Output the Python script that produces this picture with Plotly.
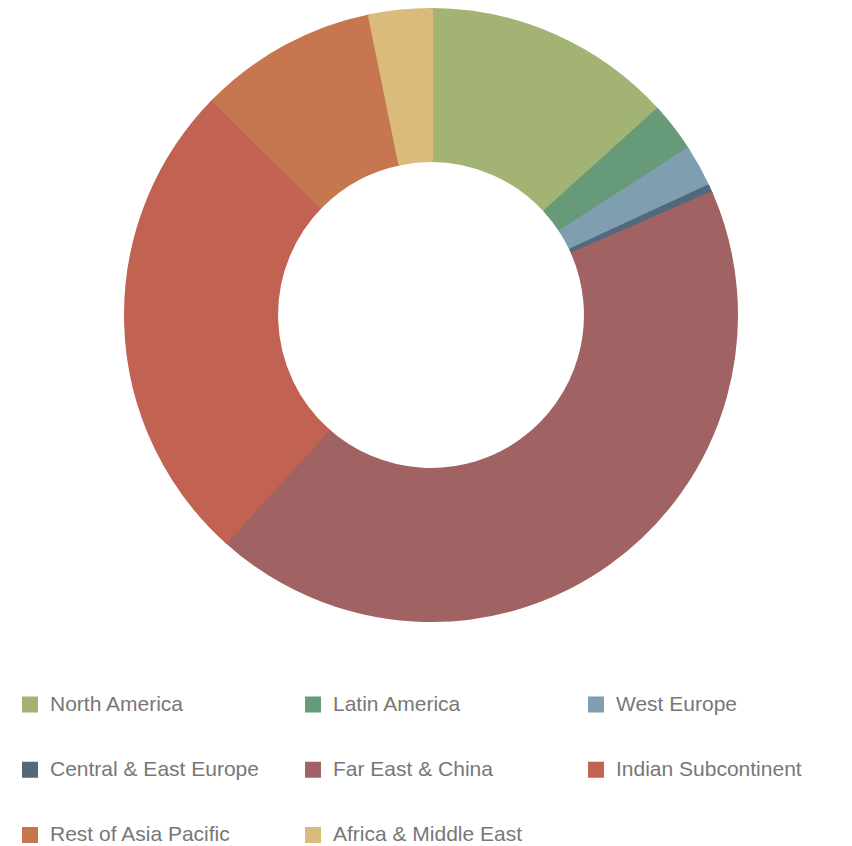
import plotly.graph_objects as go

regions = ["North America", "Latin America", "West Europe", "Central & East Europe",
           "Far East & China", "Indian Subcontinent", "Rest of Asia Pacific", "Africa & Middle East"]
shares = [13.3, 2.6, 2.2, 0.4, 43.2, 25.7, 9.4, 3.2]
colors = ["#a2b374", "#679a79", "#7f9eaf", "#52687d", "#a06262", "#c16253", "#c6774f", "#dbbb7b"]

legend_labels = ["<br><span style='font-size:21px'>%s</span><br> " % r for r in regions]

W, H = 852, 846
cx, cy, R = 431, 315, 305

fig = go.Figure(go.Pie(
    labels=legend_labels,
    values=shares,
    hole=0.508,
    sort=False,
    direction="clockwise",
    rotation=0,
    textinfo="none",
    marker=dict(colors=colors, line=dict(color=colors, width=4)),
    domain=dict(x=[(cx - R) / W, (cx + R) / W],
                y=[(H - (cy + R)) / H, (H - (cy - R)) / H]),
))

fig.update_layout(
    width=W, height=H,
    margin=dict(l=0, r=0, t=0, b=0, autoexpand=False),
    paper_bgcolor="white",
    showlegend=True,
    legend=dict(orientation="h", x=10 / W, xanchor="left", y=(H - 667) / H, yanchor="top",
                entrywidth=238, entrywidthmode="pixels",
                font=dict(family="Liberation Sans, Arial, sans-serif", size=15.95, color="#777777"),
                traceorder="normal"),
)

fig.write_html("out.html")
